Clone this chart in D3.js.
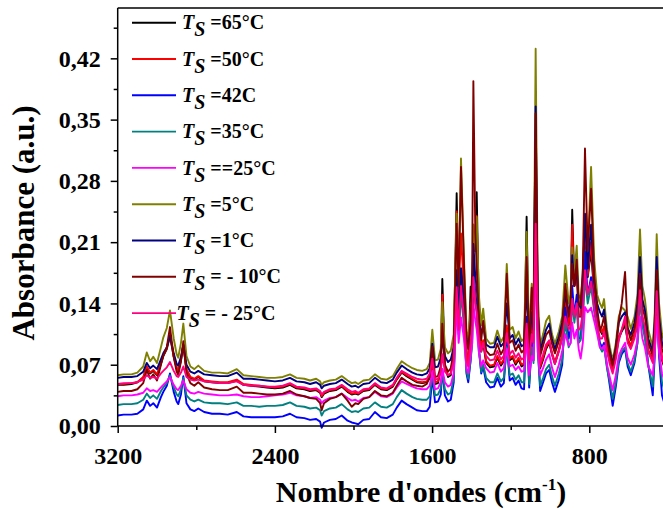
<!DOCTYPE html>
<html><head><meta charset="utf-8">
<script src="https://cdn.jsdelivr.net/npm/d3@7"></script>
<style>
body{margin:0;background:#fff}
svg{display:block}
text{font-family:"Liberation Serif","Times New Roman",serif;font-weight:bold;fill:#000}
</style>
</head><body>
<svg id="chart" width="663" height="509"></svg>
<script>
// Wavenumber grid (cm-1)
const wavenumbers = [3200,3170,3130,3100,3070,3052,3035,3019,3000,2980,
2968,2950,2934,2915,2900,2892,2878,2866,2850,2830,
2810,2790,2760,2720,2680,2640,2594,2560,2520,2480,
2440,2400,2360,2323,2290,2250,2221,2190,2170,2162,
2150,2120,2090,2060,2030,2009,1990,1976,1950,1920,
1891,1860,1831,1800,1780,1755,1730,1700,1678,1650,
1627,1612,1599,1585,1570,1556,1548,1535,1519,1505,
1490,1475,1465,1453,1438,1425,1416,1404,1396,1390,
1380,1373,1362,1350,1340,1325,1305,1285,1268,1250,
1235,1220,1205,1190,1175,1160,1145,1132,1119,1106,
1093,1084,1073,1062,1050,1035,1020,1004,990,975,
955,938,922,905,895,887,876,864,854,844,
833,822,808,791,775,760,746,735,725,710,
695,681,665,650,635,618,605,589,570,555,
542,530,517,500,477,467,457,445,430,410];

// Absorbance series (a.u.)
const ts65 = [.047,.047,.048,.050,.055,.067,.060,.063,.058,.071,
.080,.088,.103,.079,.066,.062,.075,.092,.064,.055,
.053,.056,.051,.050,.049,.049,.052,.047,.046,.045,
.044,.043,.044,.047,.043,.042,.040,.041,.038,.033,
.037,.040,.041,.045,.039,.036,.037,.036,.040,.041,
.047,.042,.041,.045,.053,.061,.057,.053,.050,.049,
.050,.055,.071,.048,.049,.065,.168,.068,.056,.058,
.085,.266,.150,.180,.150,.080,.070,.159,.130,.220,
.200,.267,.130,.085,.095,.072,.067,.068,.078,.069,
.074,.110,.075,.078,.070,.076,.068,.070,.239,.068,
.120,.095,.330,.110,.066,.076,.088,.095,.082,.071,
.086,.102,.140,.115,.140,.247,.160,.180,.125,.125,
.150,.230,.170,.200,.150,.125,.110,.105,.112,.090,
.076,.064,.080,.100,.108,.115,.098,.090,.103,.120,
.145,.120,.110,.085,.075,.100,.150,.100,.075,.062];

const ts50 = [.048,.048,.049,.050,.056,.068,.061,.064,.059,.072,
.081,.089,.104,.080,.067,.063,.076,.093,.065,.056,
.054,.057,.052,.051,.050,.050,.053,.048,.047,.046,
.045,.044,.045,.048,.044,.043,.041,.042,.039,.034,
.038,.041,.042,.046,.040,.037,.038,.037,.041,.042,
.048,.043,.042,.046,.054,.062,.058,.054,.051,.050,
.051,.056,.072,.050,.051,.063,.150,.068,.058,.060,
.085,.245,.150,.220,.155,.082,.072,.140,.130,.230,
.200,.240,.130,.088,.098,.074,.069,.070,.080,.071,
.076,.115,.077,.080,.072,.078,.070,.072,.200,.070,
.125,.098,.320,.112,.068,.078,.090,.097,.084,.073,
.087,.103,.142,.116,.138,.230,.160,.180,.126,.126,
.152,.235,.172,.210,.152,.127,.112,.107,.114,.092,
.078,.065,.082,.102,.110,.120,.100,.092,.105,.122,
.150,.122,.112,.087,.076,.102,.152,.102,.077,.064];

const ts42 = [.012,.013,.013,.014,.019,.029,.023,.026,.021,.033,
.039,.046,.060,.039,.028,.025,.036,.057,.026,.019,
.017,.020,.016,.014,.014,.013,.016,.011,.010,.010,
.010,.010,.011,.014,.010,.009,.007,.008,.005,-.002,
.004,.007,.008,.012,.006,.004,.003,.002,.007,.008,
.016,.010,.009,.013,.021,.029,.025,.021,.018,.017,
.017,.022,.056,.027,.028,.036,.065,.035,.028,.030,
.050,.170,.110,.170,.125,.060,.050,.075,.100,.190,
.150,.140,.090,.060,.068,.050,.044,.045,.055,.045,
.049,.095,.052,.055,.047,.052,.043,.042,.125,.044,
.095,.075,.300,.090,.040,.050,.060,.064,.050,.039,
.053,.070,.135,.100,.110,.160,.125,.150,.100,.100,
.135,.199,.150,.170,.140,.115,.095,.090,.095,.068,
.045,.023,.045,.072,.082,.088,.068,.058,.072,.095,
.163,.125,.105,.070,.035,.080,.150,.080,.035,.020];

const ts35 = [.024,.025,.025,.026,.030,.037,.032,.035,.031,.040,
.044,.049,.058,.044,.036,.034,.042,.055,.035,.030,
.028,.030,.027,.026,.026,.025,.027,.023,.023,.022,
.023,.023,.024,.027,.023,.022,.020,.021,.018,.012,
.017,.020,.021,.025,.019,.016,.017,.016,.020,.021,
.027,.022,.021,.025,.033,.041,.037,.033,.031,.030,
.030,.034,.060,.035,.036,.043,.062,.042,.036,.038,
.055,.155,.105,.150,.115,.062,.054,.075,.095,.170,
.140,.130,.085,.062,.070,.055,.050,.050,.060,.051,
.055,.090,.058,.060,.053,.058,.050,.050,.115,.048,
.090,.072,.260,.085,.046,.055,.065,.070,.057,.046,
.060,.076,.120,.090,.095,.145,.118,.140,.095,.098,
.120,.170,.140,.160,.130,.110,.090,.085,.090,.066,
.050,.031,.050,.075,.085,.090,.072,.062,.075,.095,
.150,.115,.100,.070,.045,.085,.140,.085,.050,.035];

const ts25 = [.034,.035,.035,.036,.038,.043,.040,.041,.039,.044,
.047,.051,.056,.047,.042,.041,.046,.052,.042,.038,
.037,.039,.037,.036,.035,.035,.036,.034,.033,.033,
.034,.035,.036,.038,.035,.034,.032,.033,.030,.026,
.029,.032,.033,.037,.032,.029,.030,.028,.032,.033,
.039,.034,.033,.037,.044,.051,.048,.045,.043,.042,
.042,.046,.063,.042,.043,.050,.065,.050,.045,.047,
.060,.140,.095,.124,.100,.066,.060,.080,.095,.140,
.120,.110,.085,.068,.075,.066,.061,.062,.072,.062,
.066,.088,.068,.070,.064,.068,.062,.063,.100,.058,
.080,.075,.200,.085,.058,.066,.076,.082,.067,.056,
.070,.085,.105,.092,.095,.118,.100,.110,.088,.077,
.095,.136,.130,.135,.120,.105,.090,.088,.092,.070,
.055,.041,.058,.080,.088,.095,.078,.070,.082,.098,
.125,.100,.090,.068,.058,.085,.125,.085,.060,.048];

const ts5 = [.058,.059,.059,.061,.068,.084,.074,.079,.072,.090,
.101,.112,.132,.100,.082,.078,.095,.117,.080,.068,
.065,.069,.063,.061,.061,.060,.065,.058,.057,.056,
.055,.055,.056,.059,.055,.054,.052,.054,.051,.047,
.050,.052,.053,.057,.052,.049,.050,.048,.052,.053,
.059,.054,.053,.057,.065,.074,.070,.066,.064,.063,
.065,.072,.110,.075,.076,.088,.1415,.090,.083,.086,
.105,.2426,.160,.3055,.193,.110,.098,.130,.150,.230,
.200,.2387,.150,.115,.134,.100,.094,.095,.109,.096,
.102,.185,.110,.113,.100,.108,.097,.100,.2216,.100,
.1625,.120,.431,.150,.092,.105,.120,.126,.105,.094,
.108,.125,.1835,.140,.150,.204,.175,.206,.150,.145,
.170,.240,.200,.296,.190,.150,.140,.135,.145,.110,
.090,.0747,.095,.125,.1357,.132,.125,.111,.125,.150,
.2244,.160,.145,.110,.090,.130,.219,.140,.105,.090];

const ts1 = [.055,.056,.056,.057,.062,.072,.066,.069,.065,.076,
.083,.090,.103,.083,.071,.069,.079,.093,.070,.062,
.060,.063,.059,.058,.057,.057,.061,.054,.054,.053,
.052,.051,.052,.055,.051,.050,.048,.050,.047,.043,
.046,.048,.049,.053,.048,.045,.046,.044,.048,.049,
.055,.050,.049,.053,.061,.069,.065,.061,.059,.058,
.060,.066,.094,.067,.068,.078,.100,.080,.073,.076,
.090,.178,.125,.180,.140,.100,.090,.110,.130,.208,
.170,.160,.120,.105,.115,.093,.090,.090,.102,.091,
.095,.140,.100,.104,.093,.100,.091,.093,.160,.092,
.130,.110,.365,.130,.086,.098,.110,.117,.099,.088,
.102,.118,.150,.130,.140,.195,.160,.180,.140,.135,
.165,.2426,.180,.230,.165,.140,.130,.125,.133,.103,
.085,.071,.090,.118,.125,.130,.112,.104,.118,.140,
.193,.145,.132,.100,.085,.120,.193,.125,.095,.082];

const tsMinus10 = [.039,.040,.040,.042,.049,.064,.054,.059,.052,.070,
.080,.090,.113,.079,.062,.058,.074,.097,.060,.049,
.046,.050,.044,.042,.041,.041,.045,.038,.038,.037,
.036,.036,.037,.040,.036,.034,.032,.031,.026,.018,
.026,.031,.033,.037,.029,.022,.026,.025,.031,.033,
.040,.035,.034,.038,.046,.055,.051,.047,.046,.045,
.048,.056,.091,.056,.057,.068,.117,.070,.062,.066,
.085,.231,.160,.296,.185,.098,.088,.120,.180,.394,
.220,.180,.120,.098,.120,.086,.081,.082,.094,.082,
.088,.174,.095,.098,.086,.093,.084,.087,.193,.086,
.158,.115,.357,.130,.080,.092,.104,.109,.094,.083,
.097,.112,.1625,.125,.135,.185,.160,.190,.140,.138,
.180,.317,.200,.271,.170,.135,.109,.115,.125,.100,
.082,.069,.088,.120,.140,.176,.112,.098,.112,.130,
.174,.135,.125,.095,.080,.110,.178,.115,.088,.075];

const tsMinus25 = [.048,.049,.049,.050,.053,.058,.055,.056,.054,.060,
.063,.067,.073,.063,.057,.056,.061,.068,.056,.053,
.052,.053,.051,.050,.049,.049,.051,.047,.046,.046,
.045,.045,.046,.049,.045,.044,.042,.043,.040,.036,
.039,.042,.043,.047,.042,.039,.040,.038,.042,.043,
.049,.044,.043,.047,.055,.063,.060,.056,.054,.053,
.054,.060,.077,.053,.054,.062,.082,.062,.058,.060,
.075,.1586,.110,.160,.125,.075,.068,.095,.115,.170,
.140,.130,.100,.085,.095,.080,.075,.076,.086,.076,
.080,.106,.082,.086,.078,.083,.076,.078,.117,.075,
.105,.095,.231,.110,.072,.082,.093,.098,.082,.071,
.085,.100,.125,.110,.115,.145,.125,.140,.110,.112,
.130,.178,.150,.165,.135,.115,.100,.100,.108,.085,
.070,.060,.076,.098,.110,.125,.095,.088,.100,.115,
.155,.125,.112,.085,.072,.100,.154,.100,.078,.065];

const seriesLabels = [" =65°C"," =50°C"," =42C"," =35°C"," ==25°C"," =5°C"," =1°C"," = - 10°C"," = - 25°C"];
const seriesColors = ["#000000","#ff0000","#0000ff","#008080","#ff00ff","#808000","#000080","#800000","#ff0080"];
const seriesValues = [ts65, ts50, ts42, ts35, ts25, ts5, ts1, tsMinus10, tsMinus25];

const xMajorTicks = [3200, 2400, 1600, 800];
const xMinorTicks = [2800, 2000, 1200];
const yMajorTicks = [0, 0.07, 0.14, 0.21, 0.28, 0.35, 0.42];
const yMinorTicks = [0.035, 0.105, 0.175, 0.245, 0.315, 0.385, 0.455];

const svg = d3.select("#chart");
const X0 = 117.7, X1 = 667.9, Y0 = 426, Y1 = 8;
const x = d3.scaleLinear().domain([3200, 400]).range([X0, X1]);
const y = d3.scaleLinear().domain([0, 0.4775]).range([Y0, Y1]);

svg.append("defs").append("clipPath").attr("id", "clip")
  .append("rect").attr("x", X0).attr("y", Y1).attr("width", X1 - X0).attr("height", Y0 - Y1 + 4);

const line = d3.line().x((d, i) => x(wavenumbers[i])).y(d => y(d));
const g = svg.append("g").attr("clip-path", "url(#clip)");
seriesValues.forEach((vals, k) => {
  g.append("path").datum(vals)
    .attr("d", line)
    .attr("fill", "none")
    .attr("stroke", seriesColors[k])
    .attr("stroke-width", 1.9)
    .attr("stroke-linejoin", "round");
});

// Axes
const fmtY = d => d3.format(".2f")(d).replace(".", ",");
const xAxis = svg.append("g").attr("transform", `translate(0,${Y0})`)
  .call(d3.axisBottom(x).tickValues(xMajorTicks).tickSize(7).tickSizeOuter(0).tickPadding(14).tickFormat(d3.format("d")));
const xMinor = svg.append("g").attr("transform", `translate(0,${Y0})`)
  .call(d3.axisBottom(x).tickValues(xMinorTicks).tickSize(4).tickFormat(""));
xMinor.select(".domain").remove();
const yAxis = svg.append("g").attr("transform", `translate(${X0},0)`)
  .call(d3.axisLeft(y).tickValues(yMajorTicks).tickSize(7).tickSizeOuter(0).tickPadding(10).tickFormat(fmtY));
const yMinor = svg.append("g").attr("transform", `translate(${X0},0)`)
  .call(d3.axisLeft(y).tickValues(yMinorTicks).tickSize(4).tickFormat(""));
yMinor.select(".domain").remove();

[xAxis, yAxis, xMinor, yMinor].forEach(a => {
  a.selectAll("path,line").attr("stroke", "#000").attr("stroke-width", 1.5);
  a.selectAll("text").style("font-family", '"Liberation Serif","Times New Roman",serif')
    .style("font-weight", "bold").style("font-size", "24px").attr("fill", "#000");
});
// place x tick labels explicitly by baseline
xAxis.selectAll(".tick text").attr("dy", null).attr("y", 38);
xAxis.select(".domain").attr("d", `M${X0},0H663`);
yAxis.select(".domain").attr("d", `M0,${Y0}V${Y1}`);

// top frame
svg.append("line").attr("x1", X0).attr("x2", 663).attr("y1", Y1).attr("y2", Y1)
  .attr("stroke", "#000").attr("stroke-width", 1.5);

// axis titles
svg.append("text").attr("transform", "translate(34,223) rotate(-90)")
  .attr("text-anchor", "middle").style("font-size", "31px").text("Absorbance (a.u.)");
const xt = svg.append("text").attr("x", 421).attr("y", 502).attr("text-anchor", "middle").style("font-size", "30px");
xt.append("tspan").text("Nombre d'ondes (cm");
xt.append("tspan").attr("dy", -12).style("font-size", "17px").text("-1");
xt.append("tspan").attr("dy", 12).text(")");

// legend
seriesLabels.forEach((lab, k) => {
  const cy = 22.7 + k * 36.3;
  svg.append("line").attr("x1", 132).attr("x2", 176).attr("y1", cy).attr("y2", cy)
    .attr("stroke", seriesColors[k]).attr("stroke-width", 1.9);
  const t = svg.append("text").attr("x", k === 8 ? 176.5 : 182).attr("y", cy + 6.6).style("font-size", "20px");
  t.append("tspan").style("font-style", "italic").text("T");
  t.append("tspan").style("font-style", "italic").attr("dy", 7).text("S");
  t.append("tspan").attr("dy", -7).text(lab);
});
</script>
</body></html>
